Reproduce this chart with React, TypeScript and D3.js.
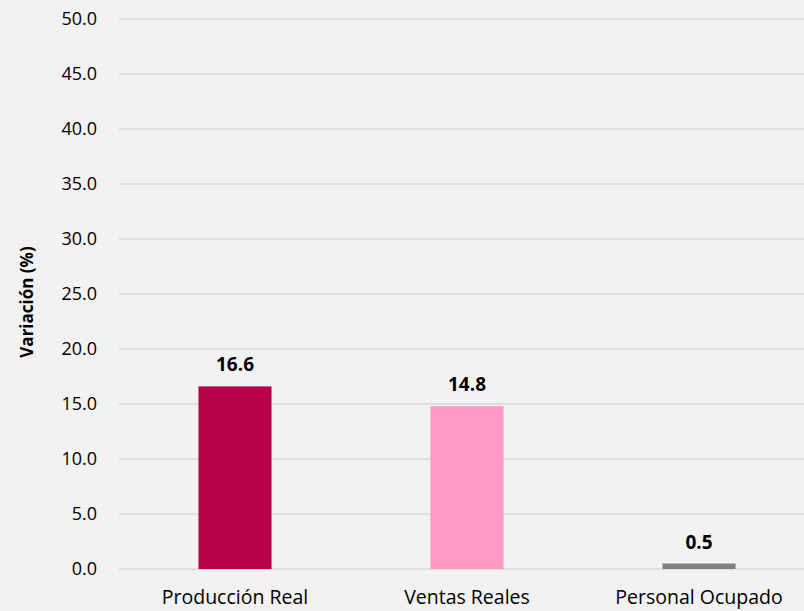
import * as d3 from "d3";
import React, { useEffect, useRef } from "react";

const categories = ["Producción Real", "Ventas Reales", "Personal Ocupado"];
const values = [16.6, 14.8, 0.5];
const barColors = ["#B8004A", "#FF99C8", "#808080"];
const yTicks = [0, 5, 10, 15, 20, 25, 30, 35, 40, 45, 50];

export default function App() {
  const svgRef = useRef<SVGSVGElement>(null);

  useEffect(() => {
    const width = 804;
    const height = 611;
    const left = 119;
    const top = 19;
    const bottom = 569;
    const font = "'Open Sans', 'Noto Sans', sans-serif";

    const svg = d3.select(svgRef.current);
    svg.selectAll("*").remove();
    svg.attr("width", width).attr("height", height);

    svg.append("rect").attr("width", width).attr("height", height).attr("fill", "#F2F2F2");

    const y = d3.scaleLinear().domain([0, 50]).range([bottom, top]);
    const x = d3
      .scaleBand<string>()
      .domain(categories)
      .range([left, left + 696])
      .paddingInner(0.685)
      .paddingOuter(0.3425);

    // grid lines
    svg
      .append("g")
      .selectAll("line")
      .data(yTicks)
      .join("line")
      .attr("x1", left)
      .attr("x2", width)
      .attr("y1", (d) => y(d))
      .attr("y2", (d) => y(d))
      .attr("stroke", "#D9D9D9")
      .attr("stroke-width", 1.3);

    // y tick labels
    svg
      .append("g")
      .selectAll("text")
      .data(yTicks)
      .join("text")
      .attr("x", 97)
      .attr("y", (d) => y(d))
      .attr("dy", "0.35em")
      .attr("text-anchor", "end")
      .attr("font-family", font)
      .attr("font-size", 18)
      .attr("fill", "#000")
      .text((d) => d.toFixed(1));

    // bars
    svg
      .append("g")
      .selectAll("rect")
      .data(values)
      .join("rect")
      .attr("x", (_, i) => x(categories[i])!)
      .attr("width", x.bandwidth())
      .attr("y", (d) => y(d))
      .attr("height", (d) => y(0) - y(d))
      .attr("fill", (_, i) => barColors[i]);

    // value labels
    svg
      .append("g")
      .selectAll("text")
      .data(values)
      .join("text")
      .attr("x", (_, i) => x(categories[i])! + x.bandwidth() / 2)
      .attr("y", (d) => y(d) - 15)
      .attr("text-anchor", "middle")
      .attr("font-family", font)
      .attr("font-size", 19)
      .attr("font-weight", "bold")
      .attr("fill", "#000")
      .text((d) => d.toFixed(1));

    // category labels
    svg
      .append("g")
      .selectAll("text")
      .data(categories)
      .join("text")
      .attr("x", (d) => x(d)! + x.bandwidth() / 2)
      .attr("y", 604)
      .attr("text-anchor", "middle")
      .attr("font-family", font)
      .attr("font-size", 19.5)
      .attr("fill", "#000")
      .text((d) => d);

    // axis title
    svg
      .append("text")
      .attr("transform", `translate(27, ${(top + bottom) / 2 + 8}) rotate(-90)`)
      .attr("text-anchor", "middle")
      .attr("dy", "0.35em")
      .attr("font-family", font)
      .attr("font-size", 17)
      .attr("font-weight", "bold")
      .attr("fill", "#000")
      .text("Variación (%)");
  }, []);

  return <svg ref={svgRef} style={{ position: "fixed", left: 0, top: 0 }} />;
}
